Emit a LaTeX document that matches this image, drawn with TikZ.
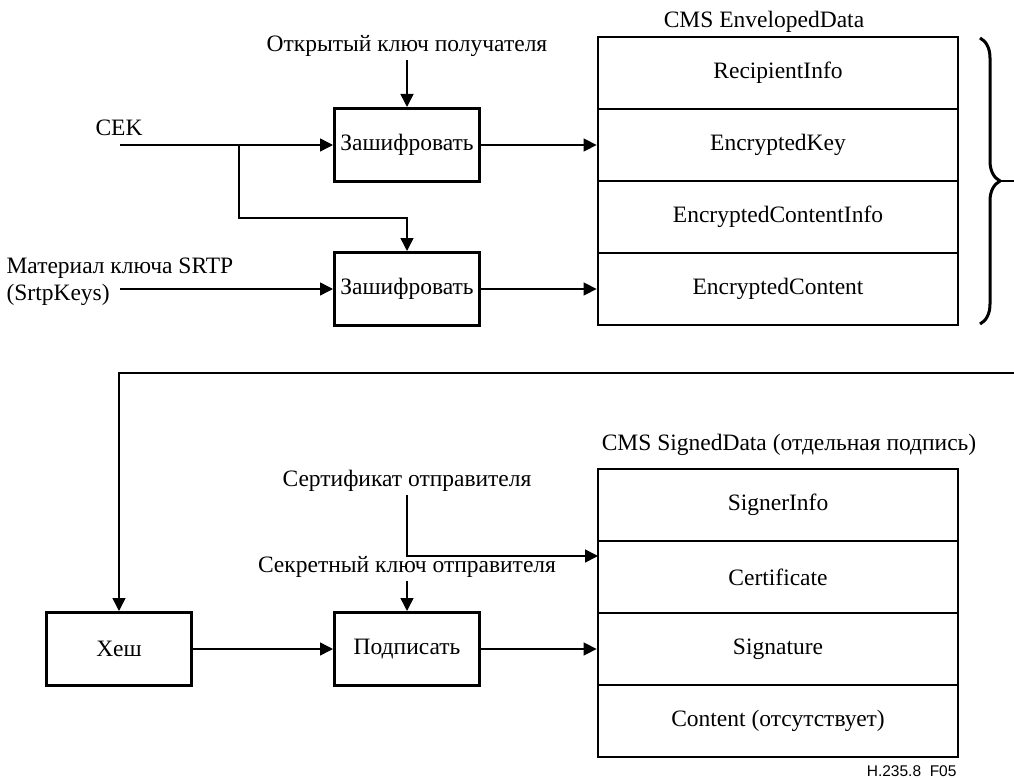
\documentclass[tikz,border=0pt]{standalone}
\usepackage{fontspec}
\setmainfont{Liberation Serif}
\newfontfamily\figfont{Liberation Sans}
\usetikzlibrary{arrows.meta,decorations.pathreplacing}
\begin{document}
\begin{tikzpicture}[x=1pt,y=-1pt,font=\fontsize{23.5}{27}\selectfont,
  box/.style={draw,line width=3pt,minimum width=145pt,minimum height=73pt,inner sep=0pt},
  row/.style={draw,line width=2.8pt,minimum width=360pt,minimum height=72pt,inner sep=0pt},
  conn/.style={line width=1.5pt,-{Triangle[length=13pt,width=13pt]}},
  wire/.style={line width=1.5pt}]
  \useasboundingbox (0,0) rectangle (1014,778);
  \node (envlbl) at (764,22) {CMS EnvelopedData};
  \node[row] (ri) at (778,73) {RecipientInfo};
  \node[row] (ek) at (778,145) {EncryptedKey};
  \node[row] (eci) at (778,217) {EncryptedContentInfo};
  \node[row] (ec) at (778,289) {EncryptedContent};
  \node[box] (enc1) at (407,145) {Зашифровать};
  \node[box] (enc2) at (407,289) {Зашифровать};
  \node (pub) at (407,46) {Открытый ключ получателя};
  \coordinate (cekin) at (120,145);
  \node (cek) at (119,128) {CEK};
  \coordinate (split) at (239,145);
  \coordinate (bend) at (239,218);
  \node[anchor=west,align=left] (srtp) at (3,282) {Материал ключа SRTP\\(SrtpKeys)};
  \coordinate (srtpin) at (120,289);
  \path[conn] (pub) edge (enc1);
  \path[conn] (cekin) edge (enc1);
  \draw[conn] (split) -- (bend) -| (enc2.north);
  \path[conn] (srtpin) edge (enc2);
  \path[conn] (enc1) edge (ek);
  \path[conn] (enc2) edge (ec);
  \draw[line width=3pt,decorate,decoration={brace,amplitude=20pt}] (980,38) -- (980,324);
  \coordinate (tip) at (1000,181);
  \coordinate (edgeA) at (1014,181);
  \coordinate (edgeB) at (1014,373);
  \coordinate (turn) at (119,373);
  \draw[wire] (tip) -- (edgeA);
  \node (siglbl) at (789,445) {CMS SignedData (отдельная подпись)};
  \node[row] (si) at (778,505) {SignerInfo};
  \node[row] (ce) at (778,577) {Certificate};
  \node[row] (sg) at (778,649) {Signature};
  \node[row] (co) at (778,721) {Content (отсутствует)};
  \node[box] (hash) at (119,649) {Хеш};
  \node[box] (sign) at (407,649) {Подписать};
  \node (cert) at (407,481) {Сертификат отправителя};
  \node (priv) at (407,567) {Секретный ключ отправителя};
  \coordinate (certin) at (598,556);
  \draw[conn] (edgeB) -- (turn) -- (hash);
  \draw[conn] (cert) |- (certin);
  \path[conn] (priv) edge (sign);
  \path[conn] (hash) edge (sign);
  \path[conn] (sign) edge (sg);
  \node[anchor=east,font=\figfont\fontsize{15.5}{18}\selectfont] (figid) at (960,771) {H.235.8\ \ F05};
\end{tikzpicture}
\end{document}
